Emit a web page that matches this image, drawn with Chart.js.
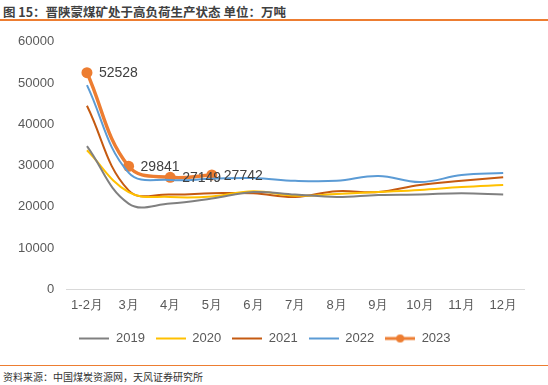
<!DOCTYPE html>
<html>
<head>
<meta charset="utf-8">
<script src="https://cdn.jsdelivr.net/npm/chart.js@4"></script>
<style>
	body { margin: 0; width: 548px; height: 385px; background: #fff; position: relative; overflow: hidden; font-family: 'Noto Sans CJK SC', sans-serif; }
	#title { position: absolute; left: 3px; top: 2px; font-size: 12.5px; font-weight: bold; color: #404040; }
	#topLine { position: absolute; left: 0; top: 19px; width: 548px; height: 2px; background: #ED7D31; }
	#box { position: absolute; left: 0; top: 22px; width: 548px; height: 333px; }
	#bottomLine { position: absolute; left: 0; top: 365px; width: 548px; height: 1px; background: #ED7D31; }
	#source { position: absolute; left: 3px; top: 369px; font-size: 10px; color: #333; }
</style>
</head>
<body>
<div id="title">图 15：晋陕蒙煤矿处于高负荷生产状态 单位：万吨</div>
<div id="topLine"></div>
<div id="box"><canvas id="chart"></canvas></div>
<div id="bottomLine"></div>
<div id="source">资料来源：中国煤炭资源网，天风证券研究所</div>
<script>
const months = ['1-2月', '3月', '4月', '5月', '6月', '7月', '8月', '9月', '10月', '11月', '12月'];
const yTicks = [0, 10000, 20000, 30000, 40000, 50000, 60000];

const y2019 = [34700, 20800, 20800, 22000, 23600, 23000, 22400, 22900, 23000, 23300, 23000];
const y2020 = [33700, 23600, 22400, 22500, 23800, 22700, 23100, 23600, 24100, 24800, 25300];
const y2021 = [44500, 24000, 23000, 23300, 23300, 22400, 23800, 23600, 25300, 26300, 27200];
const y2022 = [49500, 28300, 26500, 26800, 27000, 26300, 26300, 27500, 26000, 27700, 28200];
const y2023 = [52528, 29841, 27149, 27742];

const colors = {
	y2019: '#808080',
	y2020: '#FFC000',
	y2021: '#C55A11',
	y2022: '#5B9BD5',
	y2023: '#ED7D31',
};

const FONT = '"Liberation Sans", Arial, sans-serif';

function legendIcon(color, dot) {
	const c = document.createElement('canvas');
	c.width = 30;
	c.height = 10;
	const ctx = c.getContext('2d');
	ctx.strokeStyle = color;
	ctx.lineWidth = dot ? 3 : 2;
	ctx.beginPath();
	ctx.moveTo(0, 5);
	ctx.lineTo(30, 5);
	ctx.stroke();
	if (dot) {
		ctx.fillStyle = color;
		ctx.beginPath();
		ctx.arc(15, 5, 4, 0, Math.PI * 2);
		ctx.fill();
	}
	return c;
}

// value labels next to the 2023 points
const pointLabels = {
	id: 'pointLabels',
	afterDatasetsDraw(chart) {
		const ctx = chart.ctx;
		const meta = chart.getDatasetMeta(4);
		ctx.save();
		ctx.font = '14px ' + FONT;
		ctx.fillStyle = '#404040';
		ctx.textBaseline = 'middle';
		meta.data.forEach((pt, i) => {
			ctx.fillText(String(y2023[i]), pt.x + 12, pt.y + 1);
		});
		ctx.restore();
	},
};

const lineBase = {
	fill: false,
	tension: 0.4,
	pointRadius: 0,
	borderWidth: 2,
};

new Chart(document.getElementById('chart'), {
	type: 'line',
	data: {
		labels: months,
		datasets: [
			{ ...lineBase, label: '2019', data: y2019, borderColor: colors.y2019, backgroundColor: colors.y2019 },
			{ ...lineBase, label: '2020', data: y2020, borderColor: colors.y2020, backgroundColor: colors.y2020 },
			{ ...lineBase, label: '2021', data: y2021, borderColor: colors.y2021, backgroundColor: colors.y2021 },
			{ ...lineBase, label: '2022', data: y2022, borderColor: colors.y2022, backgroundColor: colors.y2022 },
			{
				...lineBase,
				label: '2023',
				data: y2023,
				borderColor: colors.y2023,
				backgroundColor: colors.y2023,
				borderWidth: 3.5,
				pointRadius: 5.5,
				pointBackgroundColor: colors.y2023,
				pointBorderWidth: 0,
			},
		],
	},
	options: {
		responsive: true,
		maintainAspectRatio: false,
		animation: false,
		layout: { padding: { left: 6, right: 24, top: 12, bottom: 0 } },
		plugins: {
			legend: {
				position: 'bottom',
				labels: {
					color: '#595959',
					font: { size: 13, family: FONT },
					usePointStyle: true,
					pointStyleWidth: 30,
					padding: 11,
					generateLabels(chart) {
						return chart.data.datasets.map((ds, i) => ({
							text: ds.label,
							fontColor: '#595959',
							pointStyle: legendIcon(ds.borderColor, i === 4),
							datasetIndex: i,
							hidden: false,
							lineWidth: 0,
						}));
					},
				},
			},
			title: { display: false },
			tooltip: { enabled: false },
		},
		scales: {
			x: {
				offset: true,
				grid: { display: false, drawTicks: false },
				border: { color: '#D9D9D9', width: 1 },
				ticks: {
					color: '#595959',
					font: { size: 13, family: FONT },
					padding: 8,
					maxRotation: 0,
				},
			},
			y: {
				min: 0,
				max: 60000,
				grid: { display: false, drawTicks: false },
				border: { display: false },
				afterBuildTicks(scale) {
					scale.ticks = yTicks.map((v) => ({ value: v }));
				},
				ticks: {
					color: '#595959',
					font: { size: 13, family: FONT },
					padding: 12,
					callback: (v) => String(v),
				},
			},
		},
	},
	plugins: [pointLabels],
});
</script>
</body>
</html>
